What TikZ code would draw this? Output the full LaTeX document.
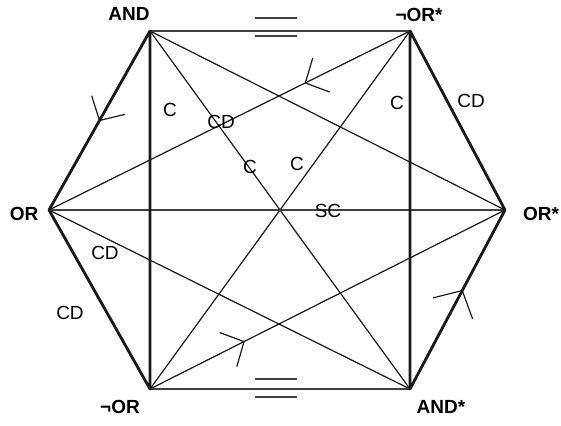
\documentclass[tikz,border=0pt]{standalone}
\usepackage{fontspec}
\setmainfont{Liberation Sans}
\usetikzlibrary{calc}
\begin{document}
\begin{tikzpicture}[x=1pt,y=-1pt,
  thickedge/.style={line width=2.8pt, line cap=round, line join=round, draw=black!90},
  thinedge/.style={line width=1.2pt, draw=black!90},
  grayedge/.style={line width=1.5pt, draw=black!75},
  eqbar/.style={line width=1.6pt, draw=black!75},
  marker/.style={line width=1.2pt, draw=black!90, line join=miter},
  vlabel/.style={font=\fontsize{19}{22}\selectfont\bfseries, inner sep=0pt},
  rlabel/.style={font=\fontsize{19}{22}\selectfont, inner sep=0pt}]
\useasboundingbox (0,0) rectangle (561,425);
% vertices
\coordinate (AND) at (150,31);
\coordinate (NORs) at (410,31);
\coordinate (ORs) at (505,210);
\coordinate (ANDs) at (410,389);
\coordinate (NOR) at (150,389);
\coordinate (OR) at (49,210);
% thin diagonals
\draw[thinedge] (AND) -- (ANDs);
\draw[thinedge] (NORs) -- (NOR);
\draw[thinedge] (AND) -- (ORs);
\draw[thinedge] (NORs) -- (OR);
\draw[thinedge] (OR) -- (ANDs);
\draw[thinedge] (NOR) -- (ORs);
\draw[grayedge] (OR) -- (ORs);
% top and bottom edges
\draw[grayedge] (AND) -- (NORs);
\draw[grayedge] (NOR) -- (ANDs);
% thick edges
\draw[thickedge] (OR) -- (AND) -- (NOR) -- cycle;
\draw[thickedge] (ORs) -- (NORs) -- (ANDs) -- cycle;
% equality bars
\coordinate (t1) at (255,18); \coordinate (t2) at (297,18);
\coordinate (t3) at (255,36); \coordinate (t4) at (297,36);
\coordinate (b1) at (255,379); \coordinate (b2) at (297,379);
\coordinate (b3) at (255,397); \coordinate (b4) at (297,397);
\draw[eqbar] (t1) -- (t2);
\draw[eqbar] (t3) -- (t4);
\draw[eqbar] (b1) -- (b2);
\draw[eqbar] (b3) -- (b4);
% arrow markers
\coordinate (m1) at ($(AND)!0.5!(OR)$);
\coordinate (m2) at ($(NORs)!0.29!(OR)$);
\coordinate (m3) at ($(NOR)!0.265!(ORs)$);
\coordinate (m4) at ($(ORs)!0.45!(ANDs)$);
\draw[marker] ($(m1)!26pt!47:(AND)$) -- (m1) -- ($(m1)!26pt!-47:(AND)$);
\draw[marker] ($(m2)!26pt!47:(NORs)$) -- (m2) -- ($(m2)!26pt!-47:(NORs)$);
\draw[marker] ($(m3)!26pt!47:(NOR)$) -- (m3) -- ($(m3)!26pt!-47:(NOR)$);
\draw[marker] ($(m4)!30pt!48:(ANDs)$) -- (m4) -- ($(m4)!30pt!-48:(ANDs)$);
% vertex labels
\node[vlabel] (lAND) at (129,14) {AND};
\node[vlabel] (lNORs) at (419,15) {¬OR*};
\node[vlabel] (lOR) at (24,214) {OR};
\node[vlabel] (lORs) at (541,214) {OR*};
\node[vlabel] (lNOR) at (120,407) {¬OR};
\node[vlabel] (lANDs) at (441,407) {AND*};
% region labels
\node[rlabel] (cd1) at (221,122) {CD};
\node[rlabel] (c1) at (170,110) {C};
\node[rlabel] (c2) at (397,103) {C};
\node[rlabel] (cd2) at (471,101) {CD};
\node[rlabel] (c3) at (250,167) {C};
\node[rlabel] (c4) at (297,164) {C};
\node[rlabel] (sc) at (328,211) {SC};
\node[rlabel] (cd3) at (105,253) {CD};
\node[rlabel] (cd4) at (70,313) {CD};
\end{tikzpicture}
\end{document}
